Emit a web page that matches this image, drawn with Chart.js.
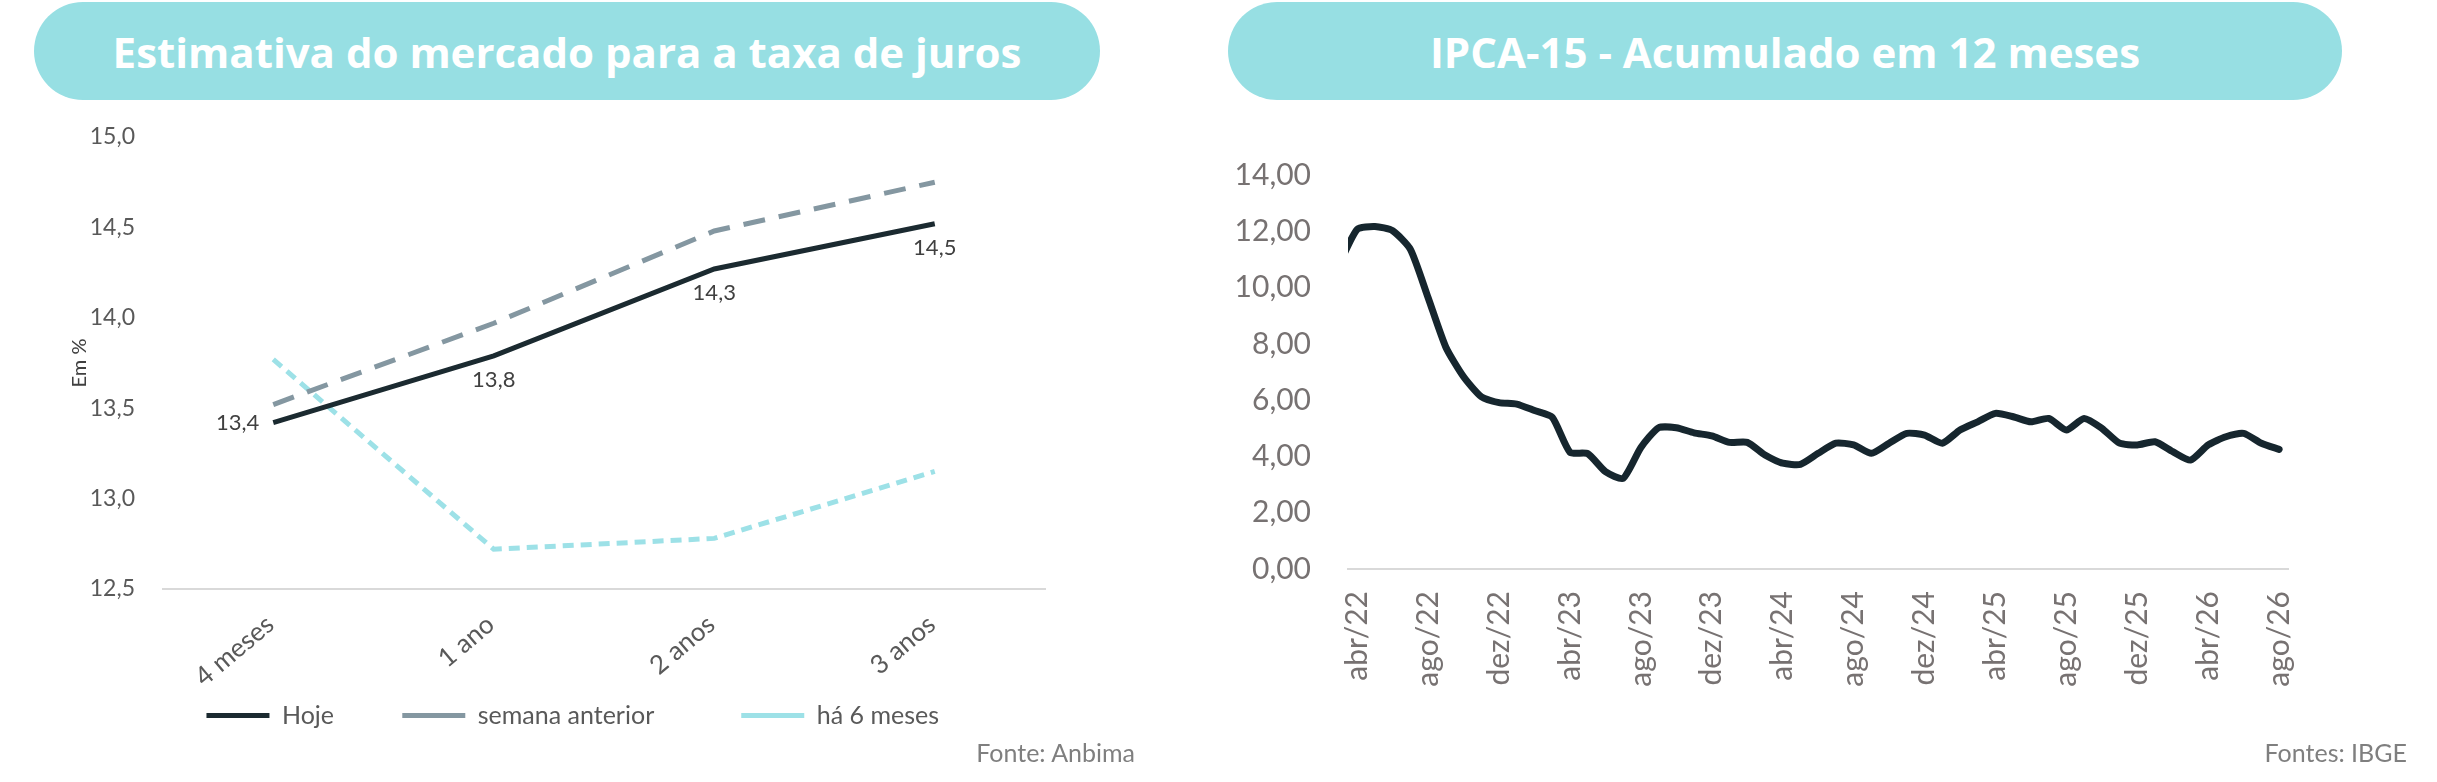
<!DOCTYPE html>
<html lang="pt-BR">
<head>
<meta charset="utf-8">
<script src="https://cdn.jsdelivr.net/npm/chart.js@4.4.1/dist/chart.umd.min.js"></script>
<style>
  body { margin: 0; width: 2437px; height: 782px; background: #fff; position: relative; overflow: hidden; font-family: Lato, "Open Sans", sans-serif; }
  .pill { position: absolute; top: 2px; height: 98px; border-radius: 49px; background: #97dfe3; color: #fff;
          font-family: "Open Sans", sans-serif; font-weight: 700; font-size: 42px;
          display: flex; align-items: center; justify-content: center; }
  .fonte { position: absolute; top: 737px; font-size: 25px; color: #7f7f7f; text-align: right; }
  .box { position: absolute; top: 110px; }
</style>
</head>
<body>
<div class="pill" style="left:34px;width:1066px">Estimativa do mercado para a taxa de juros</div>
<div class="pill" style="left:1228px;width:1114px">IPCA-15 - Acumulado em 12 meses</div>

<div class="box" style="left:0;width:1130px;height:630px"><canvas id="juros" width="1130" height="630"></canvas></div>
<div class="box" style="left:1220px;width:1217px;height:630px"><canvas id="ipca" width="1217" height="630"></canvas></div>

<div class="fonte" style="left:935px;width:200px">Fonte: Anbima</div>
<div class="fonte" style="left:2207px;width:200px">Fontes: IBGE</div>

<script>
// ---- taxa de juros (Anbima) ----
const prazos = ['4 meses', '1 ano', '2 anos', '3 anos'];
const hoje = [13.42, 13.79, 14.27, 14.52];
const semanaAnterior = [13.52, 13.97, 14.48, 14.75];
const ha6Meses = [13.77, 12.72, 12.78, 13.15];
const posRotulo = ['left', 'below', 'below', 'below'];

// ---- IPCA-15 acumulado 12 meses ----
const meses = [
  'mar/22', 'abr/22', 'mai/22', 'jun/22', 'jul/22', 'ago/22', 'set/22', 'out/22', 'nov/22', 'dez/22',
  'jan/23', 'fev/23', 'mar/23', 'abr/23', 'mai/23', 'jun/23', 'jul/23', 'ago/23', 'set/23', 'out/23', 'nov/23', 'dez/23',
  'jan/24', 'fev/24', 'mar/24', 'abr/24', 'mai/24', 'jun/24', 'jul/24', 'ago/24', 'set/24', 'out/24', 'nov/24', 'dez/24',
  'jan/25', 'fev/25', 'mar/25', 'abr/25', 'mai/25', 'jun/25', 'jul/25', 'ago/25', 'set/25', 'out/25', 'nov/25', 'dez/25',
  'jan/26', 'fev/26', 'mar/26', 'abr/26', 'mai/26', 'jun/26', 'jul/26', 'ago/26'
];
const ipca15 = [
  10.85, 12.07, 12.17, 12.02, 11.36, 9.64, 7.88, 6.83, 6.12, 5.91,
  5.86, 5.63, 5.39, 4.15, 4.10, 3.46, 3.22, 4.32, 5.02, 5.02, 4.84, 4.73,
  4.50, 4.50, 4.05, 3.76, 3.72, 4.11, 4.47, 4.41, 4.11, 4.47, 4.82, 4.76,
  4.47, 4.94, 5.23, 5.53, 5.41, 5.23, 5.35, 4.94, 5.35, 5.00, 4.47, 4.41,
  4.52, 4.17, 3.87, 4.41, 4.70, 4.82, 4.47, 4.25
];

const FONTE = 'Lato, "Open Sans", sans-serif';
const virgula = (v, d) => Number(v).toFixed(d).replace('.', ',');

// data labels for "Hoje"
const rotulos = {
  id: 'rotulos',
  afterDatasetsDraw(chart) {
    const meta = chart.getDatasetMeta(0);
    const ctx = chart.ctx;
    ctx.save();
    ctx.font = '22px ' + FONTE;
    ctx.fillStyle = '#404040';
    meta.data.forEach((pt, i) => {
      const txt = virgula(hoje[i], 1);
      if (posRotulo[i] === 'left') {
        ctx.textAlign = 'right';
        ctx.textBaseline = 'middle';
        ctx.fillText(txt, pt.x - 14, pt.y);
      } else {
        ctx.textAlign = 'center';
        ctx.textBaseline = 'top';
        ctx.fillText(txt, pt.x, pt.y + 13);
      }
    });
    ctx.restore();
  }
};

// legend spacing: Excel spreads the entries wider than Chart.js does
const legPad = 12;
const legFim = ['\u2003\u2003\u2003', '\u2003\u2003\u2003\u2003', '\u2003\u2003\u2003\u2005'];

new Chart(document.getElementById('juros'), {
  type: 'line',
  data: {
    labels: prazos,
    datasets: [
      { label: 'Hoje', data: hoje, borderColor: '#1b2a30', backgroundColor: '#1b2a30', borderWidth: 5, pointRadius: 0 },
      { label: 'semana anterior', data: semanaAnterior, borderColor: '#8497a1', backgroundColor: '#8497a1', borderWidth: 5, borderDash: [22, 14], pointRadius: 0 },
      { label: 'há 6 meses', data: ha6Meses, borderColor: '#9de1e7', backgroundColor: '#9de1e7', borderWidth: 5, borderDash: [11, 7], pointRadius: 0 }
    ]
  },
  options: {
    responsive: false,
    devicePixelRatio: 1,
    animation: false,
    layout: { padding: { left: 0, right: 85, top: 27, bottom: 2 } },
    plugins: {
      tooltip: { enabled: false },
      legend: {
        position: 'bottom',
        fullSize: false,
        labels: {
          usePointStyle: true,
          pointStyle: 'line',
          pointStyleWidth: 63,
          padding: legPad,
          color: '#595959',
          font: { family: FONTE, size: 25 },
          generateLabels: (chart) => {
            const itens = Chart.defaults.plugins.legend.labels.generateLabels(chart);
            itens.forEach((it, i) => { it.text = it.text + legFim[i]; });
            return itens;
          }
        }
      }
    },
    scales: {
      x: {
        offset: true,
        grid: { display: false, drawTicks: false },
        border: { color: '#d9d9d9', width: 2 },
        ticks: { color: '#595959', font: { family: FONTE, size: 26 }, minRotation: 40, maxRotation: 40, padding: 20, labelOffset: -3 },
        afterFit: (s) => { s.height = 630 - 2 - 35 - legPad - 479; }
      },
      y: {
        min: 12.5,
        max: 15,
        grid: { display: false, drawTicks: true, tickLength: 28 },
        border: { display: false },
        ticks: { stepSize: 0.5, padding: 0, color: '#595959', font: { family: FONTE, size: 23 }, callback: (v) => virgula(v, 1) },
        title: { display: true, text: 'Em %', color: '#404040', font: { family: FONTE, size: 20 }, padding: { top: 68, bottom: 0 } },
        afterFit: (s) => { s.width = 163; }
      }
    }
  },
  plugins: [rotulos]
});

new Chart(document.getElementById('ipca'), {
  type: 'line',
  data: {
    datasets: [{
      label: 'IPCA-15',
      data: ipca15.map((v, i) => ({ x: i, y: v })),
      borderColor: '#16262e',
      borderWidth: 7,
      pointRadius: 0,
      tension: 0.2,
      borderJoinStyle: 'round',
      borderCapStyle: 'round'
    }]
  },
  options: {
    responsive: false,
    devicePixelRatio: 1,
    animation: false,
    layout: { padding: { left: 0, right: 149, top: 65, bottom: 0 } },
    plugins: { legend: { display: false }, tooltip: { enabled: false } },
    scales: {
      x: {
        type: 'linear',
        min: 0.48,
        max: 53.5,
        afterBuildTicks: (axis) => {
          axis.ticks = meses.map((m, i) => ({ value: i })).filter((t) => t.value % 4 === 1);
        },
        grid: { display: false, drawTicks: false },
        border: { color: '#d9d9d9', width: 2 },
        ticks: {
          autoSkip: false, minRotation: 90, maxRotation: 90, padding: 22,
          color: '#777272', font: { family: FONTE, size: 30 },
          callback: (v) => meses[v]
        },
        afterFit: (s) => { s.height = 171; }
      },
      y: {
        min: 0,
        max: 14,
        grid: { display: false, drawTicks: true, tickLength: 37 },
        border: { display: false },
        ticks: { stepSize: 2, padding: 0, color: '#777272', font: { family: FONTE, size: 30 }, callback: (v) => virgula(v, 2) },
        afterFit: (s) => { s.width = 128; }
      }
    }
  }
});
</script>
</body>
</html>
